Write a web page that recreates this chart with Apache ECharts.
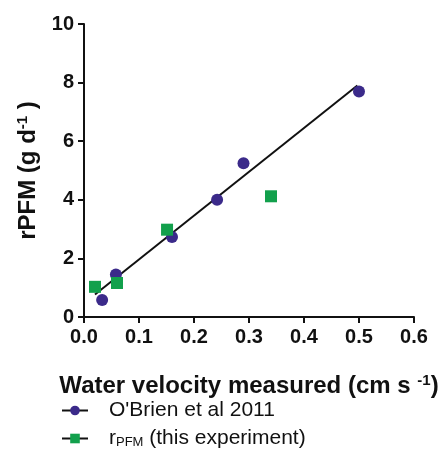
<!DOCTYPE html>
<html>
<head>
<meta charset="utf-8">
<script src="https://cdn.jsdelivr.net/npm/echarts@6/dist/echarts.min.js"></script>
<style>html,body{margin:0;padding:0;background:#fff}#c{width:440px;height:450px}</style>
</head>
<body>
<div id="c"></div>
<script>
var xTicks = [0, 0.1, 0.2, 0.3, 0.4, 0.5, 0.6];
var yTicks = [0, 2, 4, 6, 8, 10];
var obrienX = [0.033, 0.058, 0.16, 0.242, 0.29, 0.5];
var obrienY = [0.58, 1.45, 2.73, 4.0, 5.25, 7.7];
var rpfmX = [0.02, 0.06, 0.151, 0.34];
var rpfmY = [1.03, 1.16, 2.98, 4.12];
var fitX = [0.02, 0.497];
var fitY = [0.77, 7.9];

function pairs(xs, ys) { return xs.map(function (x, i) { return [x, ys[i]]; }); }

var chart = echarts.init(document.getElementById('c'), null, {renderer: 'canvas'});
var FONT = 'Liberation Sans';
chart.setOption({
  animation: false,
  backgroundColor: '#fff',
  grid: {left: 84, top: 24, right: 26, bottom: 133, containLabel: false, outerBoundsMode: 'none'},
  xAxis: {
    type: 'value', min: xTicks[0], max: xTicks[xTicks.length - 1], interval: 0.1,
    splitLine: {show: false},
    axisLine: {lineStyle: {color: '#111', width: 2}},
    axisTick: {show: true, length: 6, lineStyle: {color: '#111', width: 2}},
    axisLabel: {color: '#111', fontFamily: FONT, fontWeight: 'bold', fontSize: 20, margin: 10,
      formatter: function (v) { return v.toFixed(1); }},
    name: '{t|Water velocity measured (cm s }{s|-1}{t|)}',
    nameLocation: 'middle', nameGap: 56,
    nameTextStyle: {rich: {
      t: {fontFamily: FONT, fontWeight: 'bold', fontSize: 24, color: '#111'},
      s: {fontFamily: FONT, fontWeight: 'bold', fontSize: 15, color: '#111', verticalAlign: 'bottom', padding: [0, 0, 12, 0]}
    }}
  },
  yAxis: {
    type: 'value', min: yTicks[0], max: yTicks[yTicks.length - 1], interval: 2,
    splitLine: {show: false},
    axisLine: {show: true, lineStyle: {color: '#111', width: 2}},
    axisTick: {show: true, length: 6, lineStyle: {color: '#111', width: 2}},
    axisLabel: {color: '#111', fontFamily: FONT, fontWeight: 'bold', fontSize: 20, margin: 10},
    name: '{t|rPFM (g d}{s|-1}{t| )}',
    nameLocation: 'middle', nameGap: 41, nameRotate: 90,
    nameTextStyle: {rich: {
      t: {fontFamily: FONT, fontWeight: 'bold', fontSize: 24, color: '#111'},
      s: {fontFamily: FONT, fontWeight: 'bold', fontSize: 15, color: '#111', verticalAlign: 'bottom', padding: [0, 0, 12, 0]}
    }}
  },
  legend: {
    orient: 'vertical', left: 61, top: 400, itemGap: 7, itemWidth: 26, itemHeight: 12,
    padding: 0,
    data: ["O'Brien et al 2011", 'rPFM'],
    lineStyle: {color: '#111', width: 2, opacity: 1},
    formatter: function (n) {
      if (n === 'rPFM') return '{t|r}{b|PFM}{t| (this experiment)}';
      return '{t|' + n + '}';
    },
    textStyle: {
      padding: [0, 0, 0, 16],
      rich: {
        t: {fontFamily: FONT, fontSize: 21, lineHeight: 20, color: '#111'},
        b: {fontFamily: FONT, fontSize: 13, lineHeight: 13, color: '#111', verticalAlign: 'bottom'}
      }
    }
  },
  series: [
    {
      name: 'fit', type: 'line', data: pairs(fitX, fitY), showSymbol: false, symbol: 'none',
      lineStyle: {color: '#111', width: 2}, z: 1, silent: true
    },
    {
      name: "O'Brien et al 2011", type: 'line', data: pairs(obrienX, obrienY),
      symbol: 'circle', symbolSize: 12, showSymbol: true,
      itemStyle: {color: '#3b2a8a'}, lineStyle: {width: 0, opacity: 0, color: '#111'}, z: 3
    },
    {
      name: 'rPFM', type: 'line', data: pairs(rpfmX, rpfmY),
      symbol: 'rect', symbolSize: 12, showSymbol: true,
      itemStyle: {color: '#12a04c'}, lineStyle: {width: 0, opacity: 0, color: '#111'}, z: 3
    }
  ]
});
</script>
</body>
</html>
